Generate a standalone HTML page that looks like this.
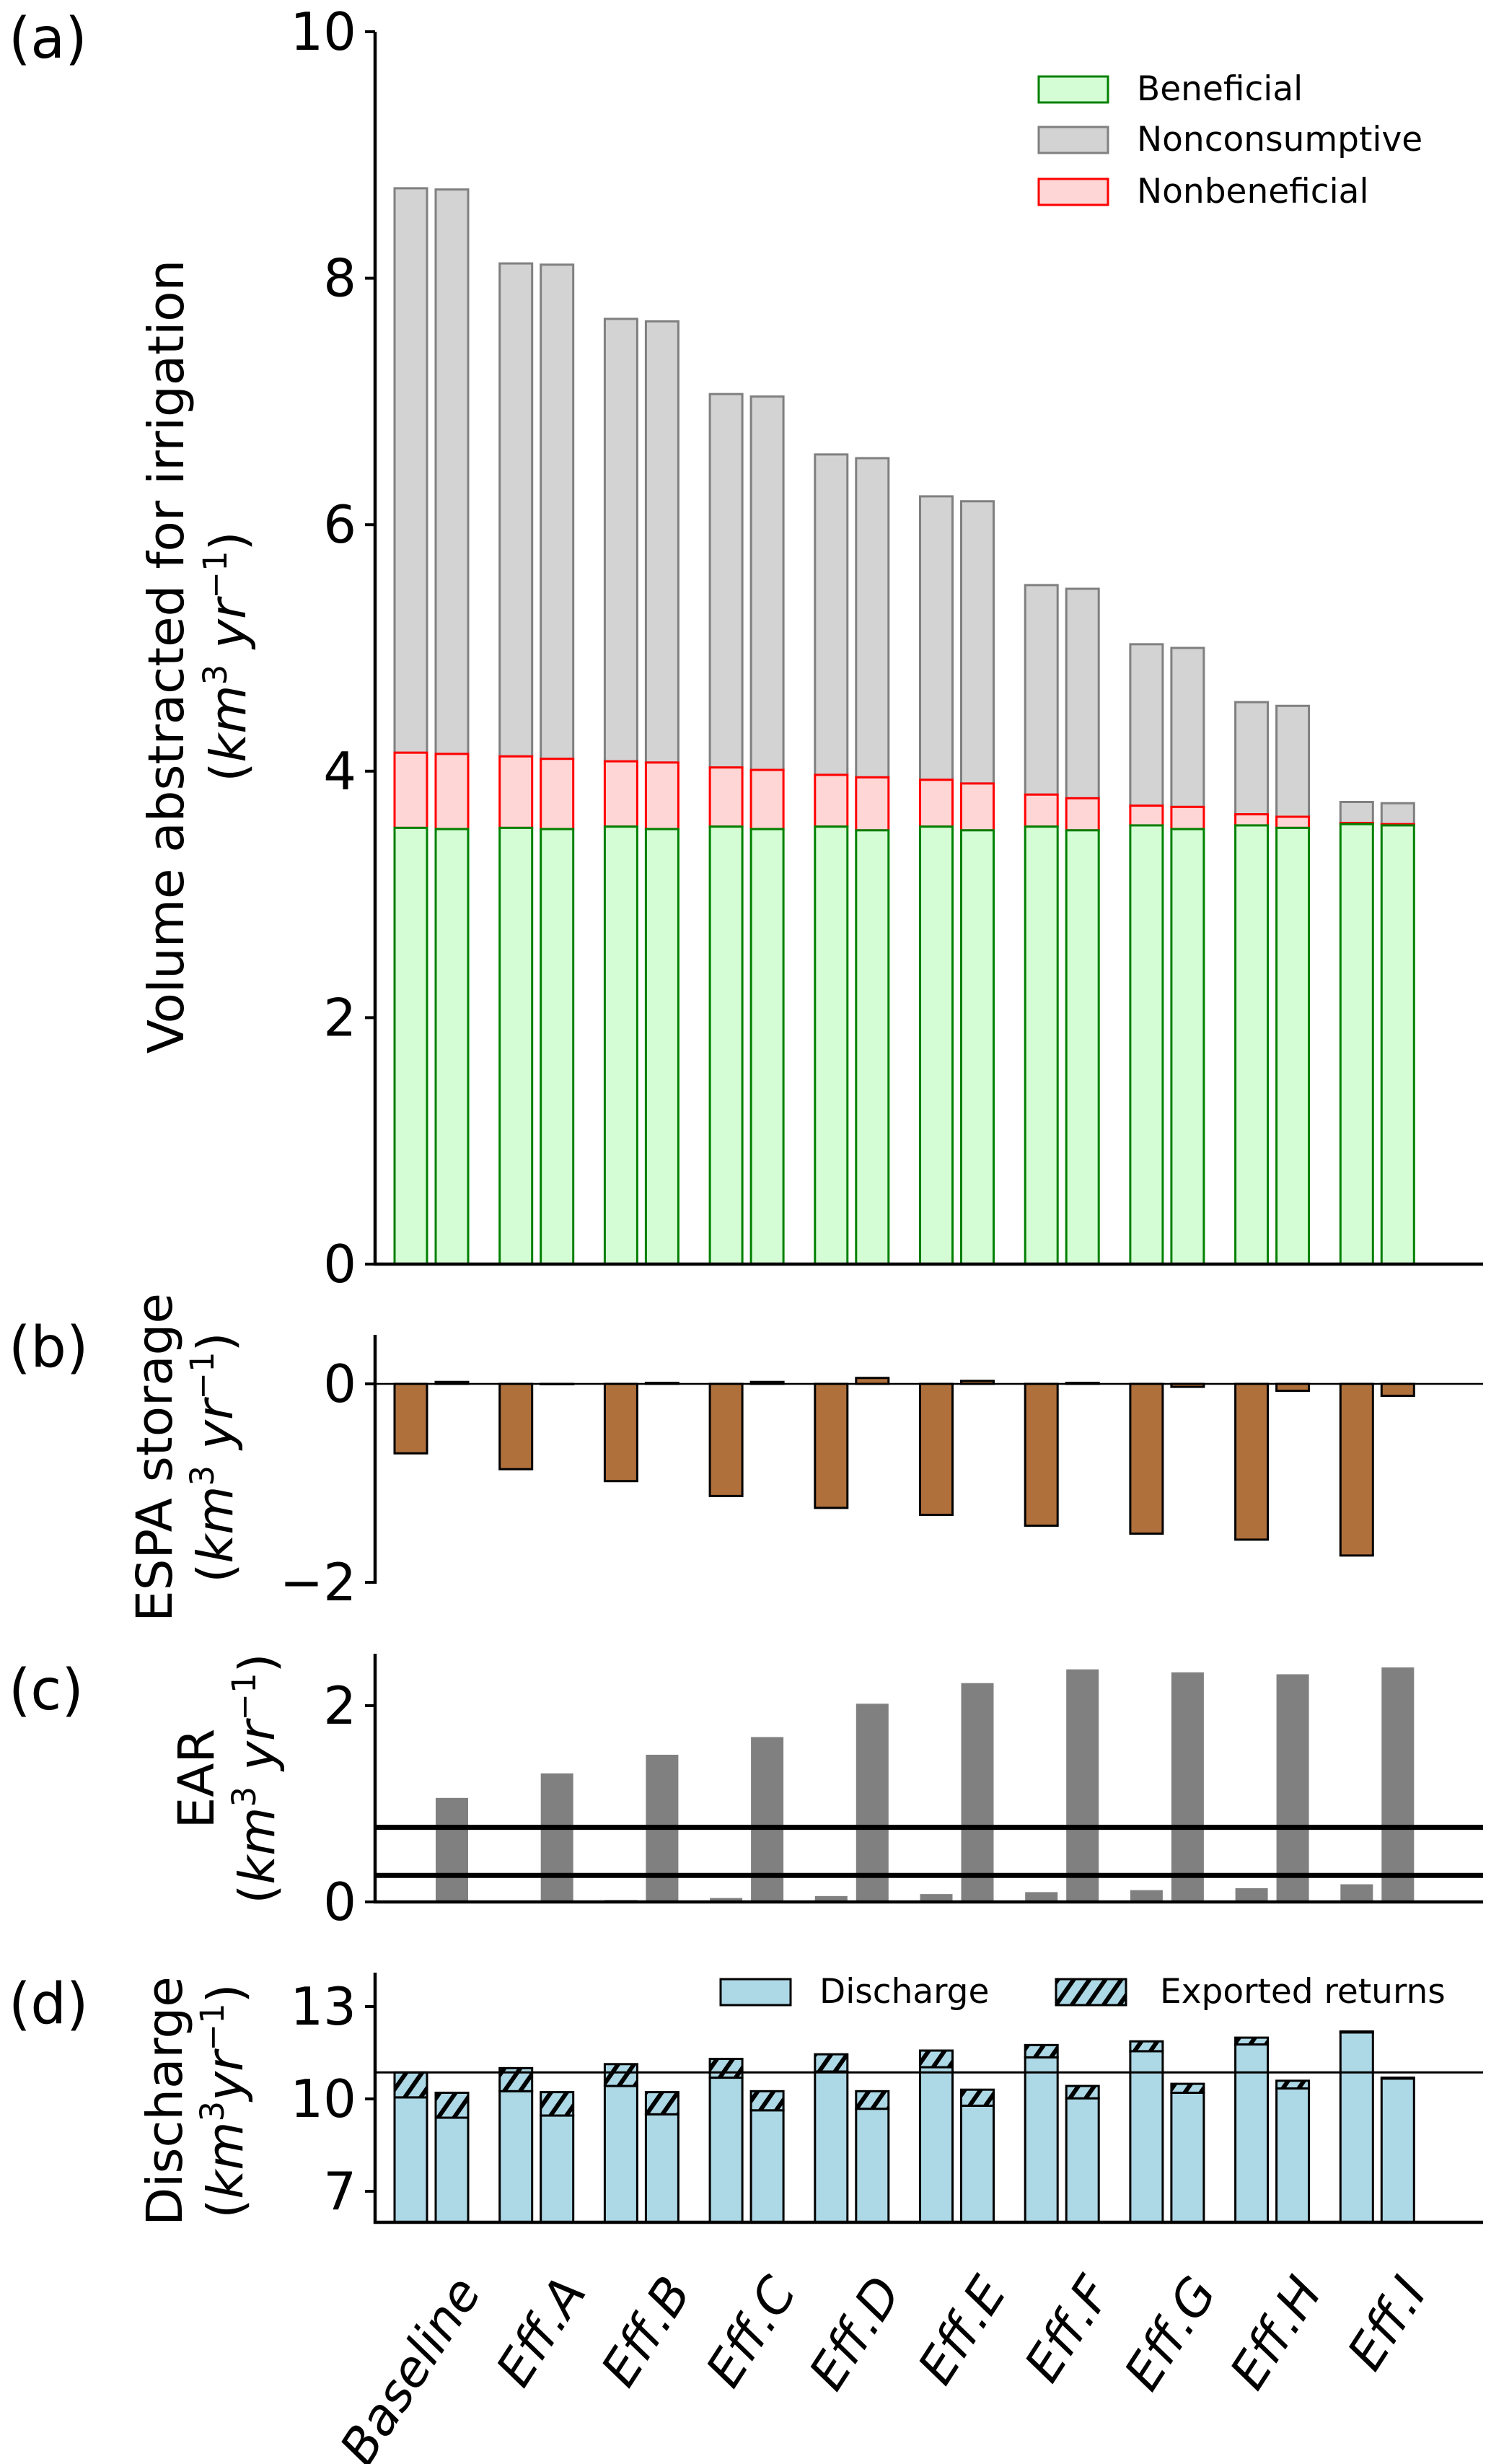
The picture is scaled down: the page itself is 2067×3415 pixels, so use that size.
<!DOCTYPE html>
<html><head><meta charset="utf-8"><style>
html,body{margin:0;padding:0;background:#fff;}
svg{display:block;font-family:"DejaVu Sans","Liberation Sans",sans-serif;}
</style></head><body>
<svg id="fig" width="2067" height="3415" viewBox="0 0 2067 3415" xmlns="http://www.w3.org/2000/svg">
<defs>
<pattern id="hatch" patternUnits="userSpaceOnUse" width="18" height="18" patternTransform="rotate(35)">
<rect width="18" height="18" fill="#add8e6"/>
<rect x="0" y="0" width="6" height="18" fill="#000"/>
</pattern>
</defs>
<g id="root"></g>
</svg>
<script>
const categories = ["Baseline","Eff.A","Eff.B","Eff.C","Eff.D","Eff.E","Eff.F","Eff.G","Eff.H","Eff.I"];
// panel a (two bars per category)
const beneficial1 = [3.54,3.54,3.55,3.55,3.55,3.55,3.55,3.56,3.56,3.57];
const beneficial2 = [3.53,3.53,3.53,3.53,3.52,3.52,3.52,3.53,3.54,3.56];
const benNonben1 = [4.15,4.12,4.08,4.03,3.97,3.93,3.81,3.72,3.65,3.58];
const benNonben2 = [4.14,4.10,4.07,4.01,3.95,3.90,3.78,3.71,3.63,3.57];
const total1 = [8.73,8.12,7.67,7.06,6.57,6.23,5.51,5.03,4.56,3.75];
const total2 = [8.72,8.11,7.65,7.04,6.54,6.19,5.48,5.00,4.53,3.74];
const aTicks = [0,2,4,6,8,10];
// panel b
const storage1 = [-0.70,-0.86,-0.98,-1.13,-1.25,-1.32,-1.43,-1.51,-1.57,-1.73];
const storage2 = [0.02,0.0,0.01,0.02,0.06,0.03,0.01,-0.03,-0.07,-0.12];
const bTicks = [-2,0];
// panel c
const ear1 = [0.0,0.0,0.02,0.04,0.06,0.08,0.10,0.12,0.14,0.18];
const ear2 = [1.06,1.31,1.50,1.68,2.02,2.23,2.37,2.34,2.32,2.39];
const earLines = [0.76,0.27];
const cTicks = [0,2];
// panel d
const discharge1 = [10.05,10.25,10.42,10.69,10.89,11.03,11.35,11.55,11.77,12.16];
const dTotal1 = [10.86,11.0,11.13,11.3,11.45,11.57,11.75,11.87,11.99,12.19];
const discharge2 = [9.39,9.46,9.5,9.63,9.68,9.78,10.02,10.2,10.34,10.66];
const dTotal2 = [10.2,10.22,10.22,10.25,10.25,10.3,10.42,10.49,10.59,10.69];
const dRef = [10.86];
const dTicks = [7,10,13];

const NS="http://www.w3.org/2000/svg";
const root=document.getElementById('root');
function mk(tag,attrs,parent){const e=document.createElementNS(NS,tag);for(const k in attrs)e.setAttribute(k,attrs[k]);(parent||root).appendChild(e);return e;}
function lin(d0,d1,r0,r1){return v=>r0+(v-d0)*(r1-r0)/(d1-d0);}
const X0=547, PITCH=145.7, OFF=57, BW=45, XL=520, XR=2056;
function barX(i,j){return X0+PITCH*i+OFF*j;}

function rect(x,y0,y1,fill,stroke,sw,name){
  const r=mk('rect',{x:x,y:Math.min(y0,y1),width:BW,height:Math.max(0.5,Math.abs(y1-y0)),fill:fill,stroke:stroke,'stroke-width':sw});
  
  
  return r;
}
function text(x,y,s,size,anchor,name,extra){
  const t=mk('text',Object.assign({x:x,y:y,'font-size':size,'text-anchor':anchor||'start',fill:'#000'},extra||{}));
  t.textContent=s;
  
  
  return t;
}
function line(x1,y1,x2,y2,w,name){
  const l=mk('line',{x1:x1,y1:y1,x2:x2,y2:y2,stroke:'#000','stroke-width':w});
  
  
  return l;
}
function yTicks(ticks,sy,name){
  ticks.forEach(v=>{
    const y=sy(v);
    line(XL-14,y,XL,y,4,name+'-tick');
    text(XL-26,y+25,(v<0?'\u2212'+Math.abs(v):String(v)),72,'end',name+'-tick-label');
  });
}
function yLabel(cx,cy,l1,name){
  const g=mk('text',{transform:`translate(${cx},${cy}) rotate(-90)`,'font-size':69,'text-anchor':'middle'});
  g.textContent=l1;
  
  
}
function unitLabel(cx,cy,name,noSpace){
  const g=mk('text',{transform:`translate(${cx},${cy}) rotate(-90)`,'font-size':69,'text-anchor':'middle'});
  
  
  const parts=[['(',{}],['km',{'font-style':'italic'}],['3',{'baseline-shift':'super','font-size':45}],[noSpace?'':' ',{}],['yr',{'font-style':'italic'}],['\u22121',{'baseline-shift':'super','font-size':45}],[')',{}]];
  parts.forEach(p=>{const s=document.createElementNS(NS,'tspan');for(const k in p[1])s.setAttribute(k,p[1][k]);s.textContent=p[0];g.appendChild(s);});
}

// ---------- Panel A ----------
const ya=lin(0,10,1752,44);
categories.forEach((c,i)=>{
  [[beneficial1,benNonben1,total1],[beneficial2,benNonben2,total2]].forEach((s,j)=>{
    const x=barX(i,j);
    rect(x,ya(s[1][i]),ya(s[2][i]),'#d3d3d3','#808080',3,'nonconsumptive-bar');
    rect(x,ya(s[0][i]),ya(s[1][i]),'#ffd6d6','#ff0000',3,'nonbeneficial-bar');
    rect(x,ya(0),ya(s[0][i]),'#d5fdd5','#008000',3,'beneficial-bar');
  });
});
line(XL,44,XL,1754,4.5,'a-y-axis');
line(XL-2,1752,XR,1752,4.5,'a-x-axis');
yTicks(aTicks,ya,'a-y');
yLabel(254,910,'Volume abstracted for irrigation','a-y-axis-title');
unitLabel(340,910,'a-y-axis-units');
text(12,80,'(a)',78,'start','panel-label-a');
[['Beneficial','#d5fdd5','#008000',106],['Nonconsumptive','#d3d3d3','#808080',176],['Nonbeneficial','#ffd6d6','#ff0000',248]].forEach(l=>{
  const r=mk('rect',{x:1440,y:l[3],width:96,height:36,fill:l[1],stroke:l[2],'stroke-width':3});
  
  
  text(1576,l[3]+33,l[0],47,'start','legend-entry');
});

// ---------- Panel B ----------
const yb=lin(-2,0,2193,1918);
categories.forEach((c,i)=>{
  rect(barX(i,0),yb(0),yb(storage1[i]),'#b0703c','#000',3,'storage-bar');
  rect(barX(i,1),yb(0),yb(storage2[i]),'#b0703c','#000',3,'storage-bar');
});
line(XL,1850,XL,2195,4.5,'b-y-axis');
line(XL,yb(0),XR,yb(0),2.5,'b-zero-line');
yTicks(bTicks,yb,'b-y');
yLabel(238,2020,'ESPA storage','b-y-axis-title');
unitLabel(322,2020,'b-y-axis-units');
text(12,1894,'(b)',78,'start','panel-label-b');

// ---------- Panel C ----------
const yc=lin(0,2,2636,2364);
categories.forEach((c,i)=>{
  rect(barX(i,0),yc(0),yc(ear1[i]),'#808080','none',0,'ear-bar');
  rect(barX(i,1),yc(0),yc(ear2[i]),'#808080','none',0,'ear-bar');
});
earLines.forEach(v=>line(XL,yc(v),XR,yc(v),7,'ear-threshold-line'));
line(XL,2292,XL,2638,4.5,'c-y-axis');
line(XL-2,2636,XR,2636,4.5,'c-x-axis');
yTicks(cTicks,yc,'c-y');
yLabel(296,2465,'EAR','c-y-axis-title');
unitLabel(380,2465,'c-y-axis-units');
text(12,2369,'(c)',78,'start','panel-label-c');

// ---------- Panel D ----------
const yd=lin(7,13,3037,2781);
const ydBase=3080;
categories.forEach((c,i)=>{
  [[discharge1,dTotal1],[discharge2,dTotal2]].forEach((s,j)=>{
    const x=barX(i,j);
    rect(x,ydBase,yd(s[0][i]),'#add8e6','#000',3,'discharge-bar');
    rect(x,yd(s[0][i]),yd(s[1][i]),'url(#hatch)','#000',3,'exported-returns-bar');
  });
});
line(XL,yd(dRef[0]),XR,yd(dRef[0]),3,'discharge-reference-line');
line(XL,2734,XL,3082,4.5,'d-y-axis');
line(XL-2,ydBase,XR,ydBase,4.5,'d-x-axis');
yTicks(dTicks,yd,'d-y');
yLabel(252,2912,'Discharge','d-y-axis-title');
unitLabel(336,2912,'d-y-axis-units',true);
text(12,2804,'(d)',78,'start','panel-label-d');
(function(){
  let r=mk('rect',{x:999,y:2743,width:97,height:36,fill:'#add8e6',stroke:'#000','stroke-width':3});
  
  
  text(1136,2776,'Discharge',47,'start','legend-entry-discharge');
  r=mk('rect',{x:1464,y:2743,width:97,height:36,fill:'url(#hatch)',stroke:'#000','stroke-width':3});
  
  
  text(1608,2776,'Exported returns',47,'start','legend-entry-exported');
})();

// x tick labels
categories.forEach((c,i)=>{
  const x=barX(i,1)+BW/2+42, y=3176;
  const t=mk('text',{transform:`translate(${x},${y}) rotate(-57)`,'font-size':69,'text-anchor':'end','font-style':'italic'});
  t.textContent=c;
  
  
});
</script>
</body></html>
